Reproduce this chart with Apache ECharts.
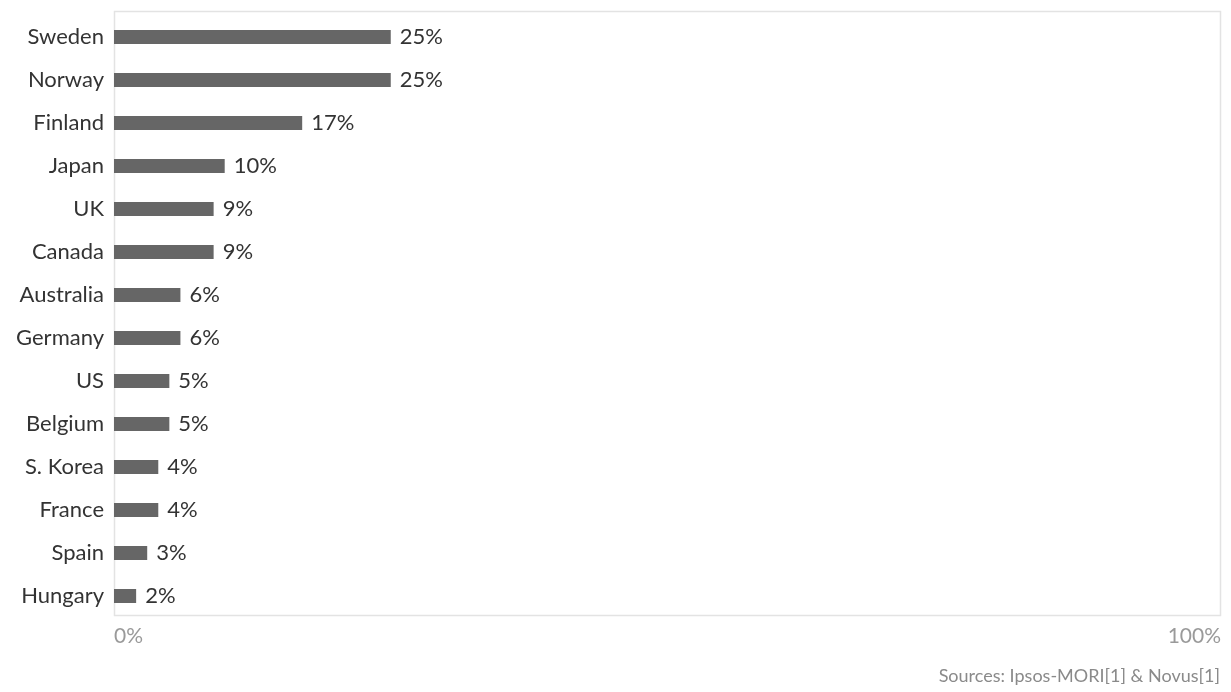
<!DOCTYPE html>
<html>
<head>
<meta charset="utf-8">
<script src="https://cdn.jsdelivr.net/npm/echarts@6/dist/echarts.min.js"></script>
<style>
html,body{margin:0;padding:0;background:#fff;}
#chart{width:1231px;height:692px;}
</style>
</head>
<body>
<div id="chart"></div>
<script>
var categories = ["Sweden","Norway","Finland","Japan","UK","Canada","Australia","Germany","US","Belgium","S. Korea","France","Spain","Hungary"];
var values = [25,25,17,10,9,9,6,6,5,5,4,4,3,2];
var sourceText = "Sources: Ipsos-MORI[1] & Novus[1]";

var chart = echarts.init(document.getElementById('chart'));
chart.setOption({
  animation: false,
  textStyle: {fontFamily: 'Lato, sans-serif'},
  grid: {left: 114, right: 10, top: 15.5, bottom: 74.5, show: false},
  graphic: [{
    type: 'rect', silent: true, z: -1,
    shape: {x: 114.5, y: 11.5, width: 1106, height: 604},
    style: {fill: 'none', stroke: '#e3e3e3', lineWidth: 1.5}
  }, {
    type: 'text', right: 11, top: 667,
    style: {text: sourceText, fill: '#8a8a8a', font: '18px Lato, sans-serif'}
  }],
  xAxis: {
    type: 'value', min: 0, max: 100, interval: 100,
    axisLine: {show: false}, axisTick: {show: false}, splitLine: {show: false},
    axisLabel: {formatter: '{value}%', color: '#9a9a9a', fontSize: 21, margin: 8, alignMinLabel: 'left', alignMaxLabel: 'right'}
  },
  yAxis: {
    type: 'category', data: categories, inverse: true,
    axisLine: {show: false}, axisTick: {show: false}, splitLine: {show: false},
    axisLabel: {color: '#333', fontSize: 22, margin: 10}
  },
  series: [{
    type: 'bar', data: values, barWidth: 14,
    itemStyle: {color: '#666'},
    label: {show: true, position: 'right', distance: 9, formatter: '{c}%', color: '#333', fontSize: 22}
  }]
});
</script>
</body>
</html>
